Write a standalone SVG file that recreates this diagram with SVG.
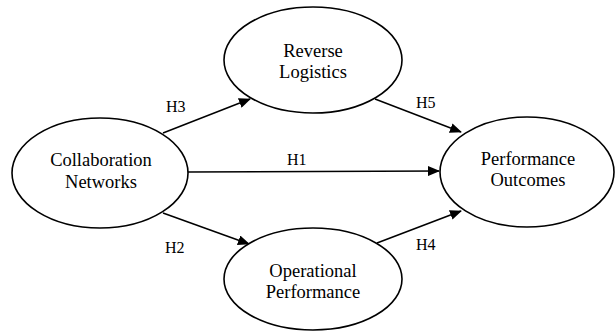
<svg xmlns="http://www.w3.org/2000/svg" width="615" height="332" viewBox="0 0 615 332">
<style>
.node{fill:#fff;stroke:#000;stroke-width:1.6}
.lbl{font-family:'Liberation Serif',Tinos,'Noto Serif','DejaVu Serif',FreeSerif,Times,serif;font-size:18.5px;fill:#000;text-anchor:middle}
.h{font-family:'Liberation Serif',Tinos,'Noto Serif','DejaVu Serif',FreeSerif,Times,serif;font-size:16px;fill:#000}
.edge{stroke:#000;stroke-width:1.5;fill:none;marker-end:url(#arr)}
</style>
<defs>
<marker id="arr" markerWidth="12" markerHeight="10" refX="11" refY="5" orient="auto" markerUnits="userSpaceOnUse">
<path d="M0,0 L12,5 L0,10 z" fill="#000"/>
</marker>
</defs>
<rect width="615" height="332" fill="#fff"/>
<g id="connectors">
<line class="edge" x1="163" y1="133" x2="250" y2="99"/>
<line class="edge" x1="188" y1="172" x2="439" y2="171"/>
<line class="edge" x1="163" y1="213" x2="249" y2="244"/>
<line class="edge" x1="375" y1="99" x2="461" y2="132"/>
<line class="edge" x1="377" y1="243" x2="461" y2="211"/>
<text class="h" x="166" y="112">H3</text>
<text class="h" x="287" y="165">H1</text>
<text class="h" x="165" y="253">H2</text>
<text class="h" x="416" y="108">H5</text>
<text class="h" x="416" y="250">H4</text>
</g>
<g id="collab">
<ellipse class="node" cx="100" cy="173" rx="88" ry="55"/>
<text class="lbl" x="101" y="166">Collaboration</text>
<text class="lbl" x="101" y="188">Networks</text>
</g>
<g id="reverse">
<ellipse class="node" cx="313" cy="60" rx="89" ry="53"/>
<text class="lbl" x="313" y="57">Reverse</text>
<text class="lbl" x="313" y="78">Logistics</text>
</g>
<g id="operational">
<ellipse class="node" cx="313" cy="279" rx="89" ry="51"/>
<text class="lbl" x="313" y="277">Operational</text>
<text class="lbl" x="313" y="298">Performance</text>
</g>
<g id="outcomes">
<ellipse class="node" cx="527" cy="172" rx="87" ry="55"/>
<text class="lbl" x="528" y="165">Performance</text>
<text class="lbl" x="528" y="186">Outcomes</text>
</g>
</svg>
